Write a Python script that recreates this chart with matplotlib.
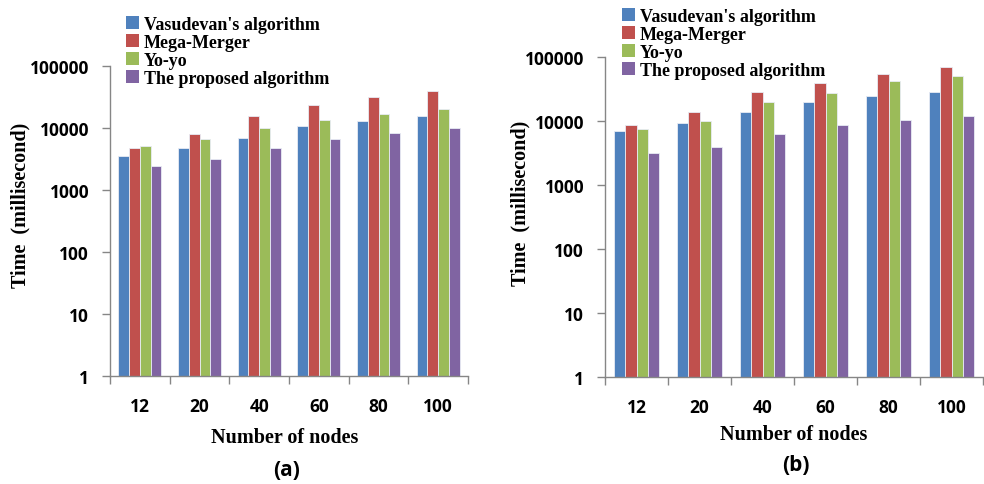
import matplotlib.pyplot as plt
import numpy as np
from matplotlib.ticker import FixedLocator, NullFormatter

nodes = ["12", "20", "40", "60", "80", "100"]
series = ["Vasudevan's algorithm", "Mega-Merger", "Yo-yo", "The proposed algorithm"]
colors = ["#4F81BD", "#C0504D", "#9BBB59", "#8064A2"]

# panel (a)
vasudevan_a = [3500, 4700, 7000, 10600, 12800, 15400]
mega_a = [4700, 8000, 15600, 23500, 31500, 39500]
yoyo_a = [5100, 6700, 10000, 13600, 16800, 20000]
proposed_a = [2400, 3150, 4700, 6700, 8200, 10000]

# panel (b)
vasudevan_b = [7100, 9500, 13800, 20300, 24900, 28400]
mega_b = [8700, 14200, 28400, 40200, 55000, 70000]
yoyo_b = [7700, 10000, 19800, 27700, 42700, 50500]
proposed_b = [3150, 4000, 6300, 8700, 10400, 12000]

ticks_font = ["Open Sans", "DejaVu Sans"]
serif_font = ["Liberation Serif", "DejaVu Serif"]
spine_col = "#868686"

fig = plt.figure(figsize=(9.84, 4.85), dpi=100)


def panel(rect, data, legend_xy, ylab_xy, xlab_xy, tag_xy, tag):
    ax = fig.add_axes(rect)
    x = np.arange(len(nodes))
    w = 0.18
    for i, vals in enumerate(data):
        ax.bar(x + (i - 1.5) * w, vals, w, color=colors[i], edgecolor="#E8ECF4",
               linewidth=0.6, label=series[i])
    ax.set_yscale("log")
    ax.set_ylim(1, 100000)
    ax.set_xlim(-0.5, len(nodes) - 0.5)
    ax.yaxis.set_major_locator(FixedLocator([1, 10, 100, 1000, 10000, 100000]))
    ax.yaxis.set_minor_locator(FixedLocator([]))
    ax.set_yticklabels(["1", "10", "100", "1000", "10000", "100000"])
    ax.set_xticks(x)
    ax.set_xticklabels(nodes)
    ax.set_xticks(np.arange(-0.5, len(nodes)), minor=True)
    ax.xaxis.set_minor_formatter(NullFormatter())
    ax.tick_params(axis="x", which="major", length=0, pad=15)
    ax.tick_params(axis="x", which="minor", length=6, color=spine_col, width=1)
    ax.tick_params(axis="y", which="major", length=6, color=spine_col, width=1, pad=9)
    for lab in ax.get_xticklabels() + ax.get_yticklabels():
        lab.set_family(ticks_font)
        lab.set_fontweight("bold")
        lab.set_fontsize(12.5)
    for s in ["top", "right"]:
        ax.spines[s].set_visible(False)
    for s in ["left", "bottom"]:
        ax.spines[s].set_color(spine_col)
        ax.spines[s].set_linewidth(1)
    ax.set_facecolor("none")
    handles, labels = ax.get_legend_handles_labels()
    leg = ax.legend(handles, labels, loc="upper left", bbox_to_anchor=legend_xy,
                    bbox_transform=fig.transFigure,
                    frameon=False, handlelength=0.7, handleheight=0.7, handletextpad=0.3,
                    labelspacing=0.05, borderpad=0, borderaxespad=0,
                    prop={"family": serif_font, "weight": "bold", "size": 13})
    for h in leg.legend_handles:
        h.set_edgecolor("none")
    fig.text(ylab_xy[0], ylab_xy[1], "Time  (millisecond)", rotation=90, ha="center", va="center",
             family=serif_font, fontweight="bold", fontsize=14.5)
    fig.text(xlab_xy[0], xlab_xy[1], "Number of nodes", ha="center", va="center",
             family=serif_font, fontweight="bold", fontsize=14.5)
    fig.text(tag_xy[0], tag_xy[1], tag, ha="center", va="center",
             family=ticks_font, fontweight="bold", fontsize=15)
    return ax


W, H = 984.0, 485.0
panel([110 / W, 1 - 377 / H, 358 / W, 310 / H],
      [vasudevan_a, mega_a, yoyo_a, proposed_a],
      (126 / W, 1 - 17 / H), (20 / W, 1 - 205 / H), (285 / W, 1 - 438 / H),
      (287 / W, 1 - 471 / H), "(a)")
panel([605 / W, 1 - 378.3 / H, 378 / W, 320 / H],
      [vasudevan_b, mega_b, yoyo_b, proposed_b],
      (622 / W, 1 - 9 / H), (520 / W, 1 - 203 / H), (794 / W, 1 - 435 / H),
      (796 / W, 1 - 466 / H), "(b)")

fig.savefig("out.png", dpi=100)
